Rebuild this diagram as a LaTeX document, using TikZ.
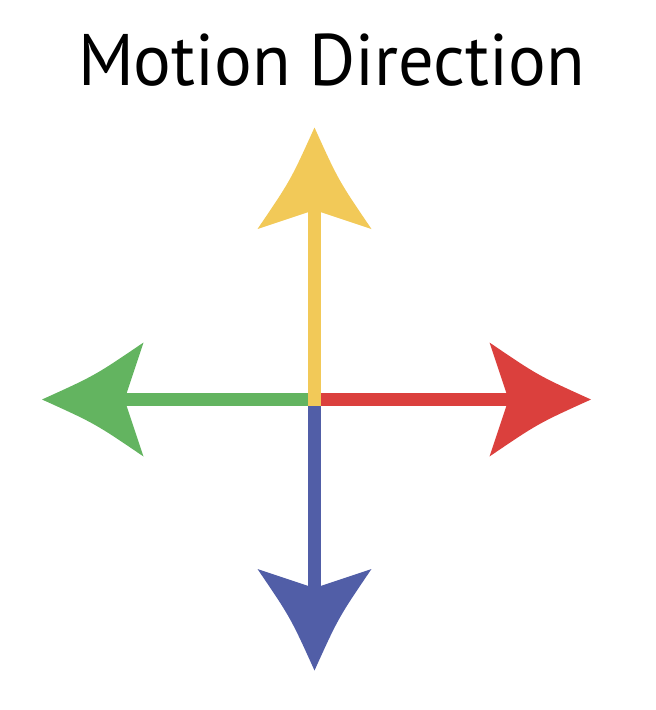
\documentclass[tikz,border=0pt]{standalone}
\usepackage{fontspec}
\setmainfont{PT Sans}
\definecolor{ayellow}{RGB}{242,201,88}
\definecolor{agreen}{RGB}{99,180,96}
\definecolor{ared}{RGB}{219,64,61}
\definecolor{ablue}{RGB}{81,94,167}
\tikzset{
  shaft/.style={line width=13pt},
  head/.pic={
    \fill (0,0) .. controls (24,53) .. (57,101.5) -- (0,82.5) -- (-57,101.5) .. controls (-24,53) .. (0,0) -- cycle;
  }
}
\begin{document}
\begin{tikzpicture}[x=1pt,y=-1pt]
\useasboundingbox (0,0) rectangle (656,710);
\node[font=\fontsize{73}{80}\selectfont,anchor=base,xscale=0.966,inner sep=0pt] (title) at (331.5,85) {Motion Direction};
\coordinate (c) at (314.5,399.5);
\coordinate (up) at (314.5,127.5);
\coordinate (down) at (314.5,670.5);
\coordinate (left) at (42,399.5);
\coordinate (right) at (591,399.5);
\coordinate (upn) at (314.5,180);
\coordinate (downn) at (314.5,620);
\coordinate (leftn) at (100,399.5);
\coordinate (rightn) at (540,399.5);
% shafts
\draw[shaft,ayellow] (upn) -- ([yshift=-6.5pt]c);
\draw[shaft,agreen] (leftn) -- ([xshift=-6.5pt]c);
\draw[shaft,ared] ([xshift=6.5pt]c) -- (rightn);
\draw[shaft,ablue] ([yshift=-6.5pt]c) -- (downn);
% heads
\pic[ayellow] at (up) {head};
\pic[ablue,rotate=180] at (down) {head};
\pic[agreen,rotate=90] at (left) {head};
\pic[ared,rotate=-90] at (right) {head};
\end{tikzpicture}
\end{document}
